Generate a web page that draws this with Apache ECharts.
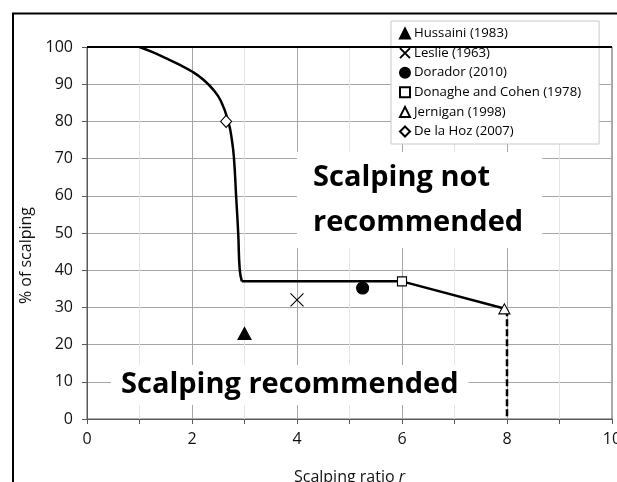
<!DOCTYPE html>
<html>
<head>
<meta charset="utf-8">
<script src="https://cdn.jsdelivr.net/npm/echarts@6/dist/echarts.min.js"></script>
<style>
  html, body { margin: 0; padding: 0; background: #fff; }
  #chart { width: 617px; height: 482px; }
</style>
</head>
<body>
<div id="chart"></div>
<script>
// Axis ticks
const xTicks = [0, 2, 4, 6, 8, 10];
const yTicks = [0, 10, 20, 30, 40, 50, 60, 70, 80, 90, 100];

// Published cases: scalping ratio r vs % of scalping
const studyNames = ['Hussaini (1983)', 'Leslie (1963)', 'Dorador (2010)',
                    'Donaghe and Cohen (1978)', 'Jernigan (1998)', 'De la Hoz (2007)'];
const studyX = [3.0, 4.0, 5.25, 6.0, 7.95, 2.65];
const studyY = [23.0, 32.0, 35.2, 37.0, 29.6, 80.0];

// Recommendation boundary: curved part, straight part, and the r = 8 limit
const curveX = [1, 1.25, 1.5, 1.75, 2, 2.2, 2.4, 2.55, 2.69, 2.76, 2.8, 2.84, 2.88, 2.91, 2.95];
const curveY = [100, 98.6, 97.0, 95.3, 93.4, 91.4, 88.6, 85.5, 80, 75, 70, 60, 50, 40, 37];
const straightX = [2.95, 6, 8];
const straightY = [37, 37, 29.5];
const limitX = [8, 8];
const limitY = [29.5, 0];

const FONT = '"Open Sans", "Liberation Sans", sans-serif';
const pair = (xs, ys) => xs.map((x, i) => [x, ys[i]]);

const crossPath = 'path://M0,0L10,10M10,0L0,10';
const markerStyles = [
  { symbol: 'triangle', size: [13, 12], fill: '#000' },
  { symbol: crossPath, size: 13, fill: 'rgba(0,0,0,0)' },
  { symbol: 'circle', size: 12, fill: '#000' },
  { symbol: 'rect', size: 9, fill: '#fff' },
  { symbol: 'triangle', size: [11, 10], fill: '#fff' },
  { symbol: 'diamond', size: [11, 12], fill: '#fff' }
];

const studySeries = studyNames.map((name, i) => ({
  name: name,
  type: 'scatter',
  z: 5,
  symbol: markerStyles[i].symbol,
  symbolSize: markerStyles[i].size,
  itemStyle: { color: markerStyles[i].fill, borderColor: '#000', borderWidth: 1.1, opacity: 1 },
  emphasis: { disabled: true },
  data: [[studyX[i], studyY[i]]]
}));

const legendIcons = ['triangle', crossPath, 'circle', 'rect', 'triangle', 'diamond'];

const chart = echarts.init(document.getElementById('chart'), null, { renderer: 'canvas' });

chart.setOption({
  animation: false,
  backgroundColor: '#fff',
  textStyle: { fontFamily: FONT },
  grid: {
    left: 87, right: 5, top: 47, bottom: 63,
    containLabel: false,
    outerBoundsMode: 'none',
    show: true,
    borderColor: '#595959',
    borderWidth: 1
  },
  legend: {
    orient: 'vertical',
    left: 391,
    top: 21,
    padding: [5.5, 18, 5.5, 8],
    backgroundColor: '#fff',
    borderColor: '#c8c8c8',
    borderWidth: 1,
    borderRadius: 0,
    itemWidth: 10,
    itemHeight: 10,
    itemGap: 5.6,
    selectedMode: false,
    textStyle: { fontFamily: FONT, fontSize: 13.2, color: '#000', lineHeight: 14, padding: [0, 0, 0, -1] },
    data: studyNames.map((n, i) => ({ name: n, icon: legendIcons[i] }))
  },
  xAxis: {
    type: 'value',
    min: 0, max: 10, interval: 2,
    name: 'Scalping ratio {i|r}',
    nameLocation: 'middle',
    nameGap: 50,
    nameTextStyle: {
      fontFamily: FONT, fontSize: 16, color: '#111',
      rich: { i: { fontFamily: FONT, fontSize: 16, fontStyle: 'italic', color: '#111' } }
    },
    axisLine: { show: true, onZero: false, lineStyle: { color: '#595959', width: 1 } },
    axisTick: { show: true, length: 5, lineStyle: { color: '#595959' } },
    minorTick: { show: true, splitNumber: 2, length: 5, lineStyle: { color: '#595959' } },
    splitLine: { show: true, lineStyle: { color: '#a6a6a6', width: 1 } },
    minorSplitLine: { show: true, lineStyle: { color: '#e4e4e4', width: 1 } },
    axisLabel: {
      fontFamily: FONT, fontSize: 16, color: '#111', margin: 12,
      customValues: xTicks
    }
  },
  yAxis: {
    type: 'value',
    min: 0, max: 100, interval: 10,
    name: '% of scalping',
    nameLocation: 'middle',
    nameGap: 47,
    nameTextStyle: { fontFamily: FONT, fontSize: 16, color: '#111', padding: [0, 45, 0, 0] },
    axisLine: { show: true, lineStyle: { color: '#595959', width: 1 } },
    axisTick: { show: true, length: 5, lineStyle: { color: '#595959' } },
    splitLine: { show: true, lineStyle: { color: '#a6a6a6', width: 1 } },
    axisLabel: { fontFamily: FONT, fontSize: 16, color: '#111', margin: 14, customValues: yTicks }
  },
  graphic: [
    {
      type: 'text', x: 297, y: 152, z: 3, silent: true,
      style: {
        text: 'Scalping not\nrecommended',
        font: 'bold 29px ' + FONT,
        fill: '#000',
        lineHeight: 45,
        align: 'left',
        verticalAlign: 'top',
        backgroundColor: '#fff',
        padding: [3, 19, 3, 16]
      }
    },
    {
      type: 'text', x: 111, y: 365, z: 3, silent: true,
      style: {
        text: 'Scalping recommended',
        font: 'bold 29px ' + FONT,
        fill: '#000',
        lineHeight: 40,
        align: 'left',
        verticalAlign: 'top',
        backgroundColor: '#fff',
        padding: [0, 10, 0, 10]
      }
    },
    {
      type: 'rect', z: 100, silent: true,
      shape: { x: 13, y: 13.5, width: 800, height: 700 },
      style: { fill: 'none', stroke: '#000', lineWidth: 2 }
    }
  ],
  series: [
    {
      name: 'boundary-curve',
      type: 'line',
      z: 4,
      smooth: 0.5,
      showSymbol: false,
      symbol: 'none',
      lineStyle: { color: '#000', width: 2.5 },
      emphasis: { disabled: true },
      data: pair(curveX, curveY),
      markLine: {
        silent: true,
        symbol: 'none',
        label: { show: false },
        lineStyle: { color: '#000', width: 2, type: 'solid' },
        data: [{ yAxis: 100 }]
      }
    },
    {
      name: 'boundary-straight',
      type: 'line',
      z: 4,
      showSymbol: false,
      symbol: 'none',
      lineStyle: { color: '#000', width: 2.5 },
      emphasis: { disabled: true },
      data: pair(straightX, straightY)
    },
    {
      name: 'limit',
      type: 'line',
      z: 4,
      showSymbol: false,
      symbol: 'none',
      lineStyle: { color: '#000', width: 2.5, type: [7, 3] },
      emphasis: { disabled: true },
      data: pair(limitX, limitY)
    }
  ].concat(studySeries)
});
</script>
</body>
</html>
